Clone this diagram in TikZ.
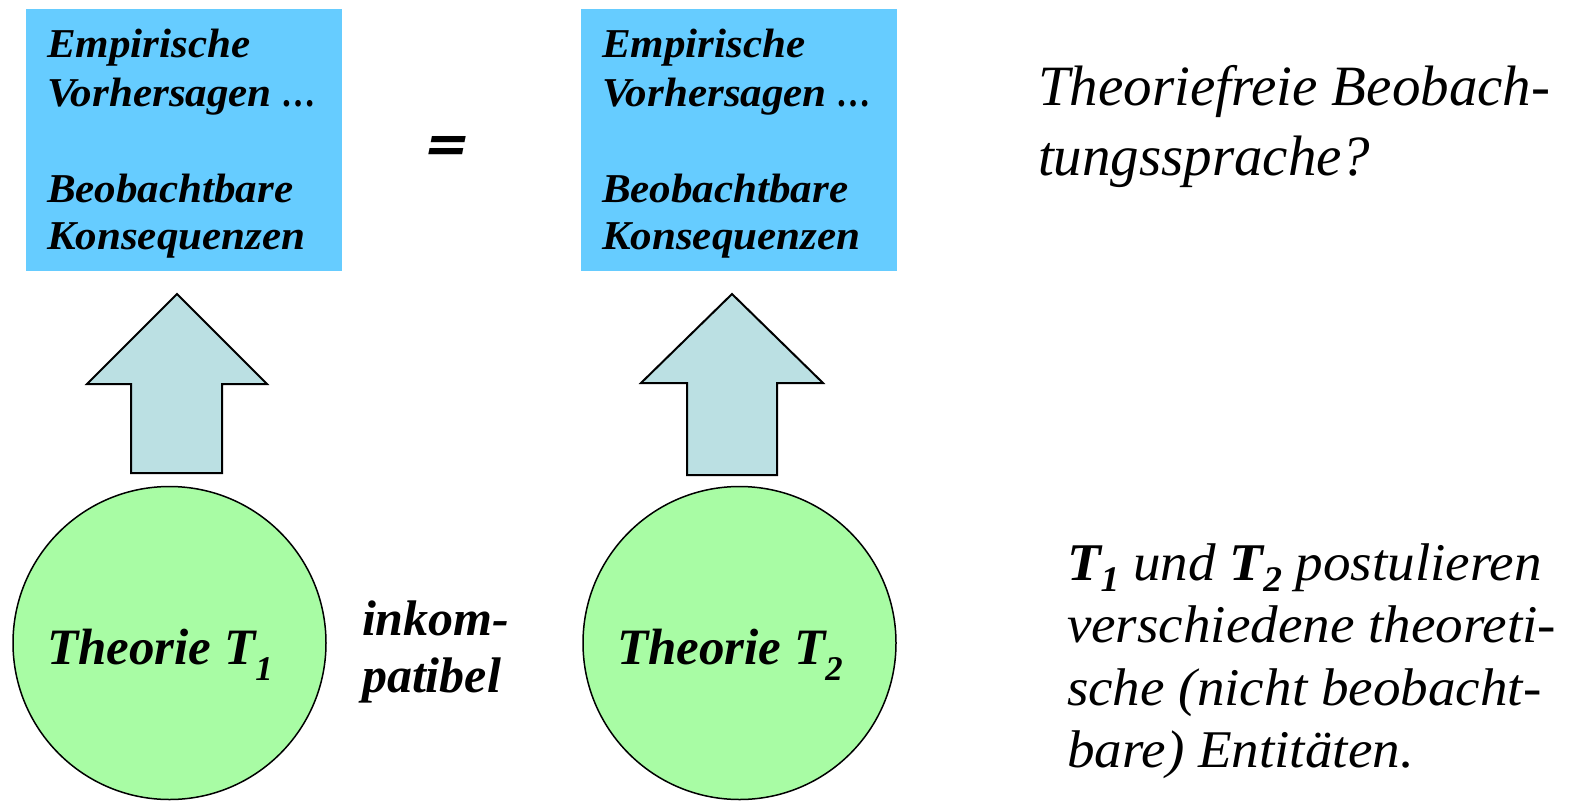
\documentclass[tikz,border=0pt]{standalone}
\usepackage{fontspec}
\usepackage{graphicx}
\setmainfont{Liberation Serif}
\newfontfamily\widefont{Liberation Serif}[FakeStretch=1.05]
\newfontfamily\sidefont{Liberation Serif}[FakeStretch=1.04]
\newfontfamily\eqfont{DejaVu Sans}[FakeSlant=0.2]
\usetikzlibrary{shapes.geometric}
\definecolor{boxblue}{RGB}{102,204,255}
\definecolor{arrowfill}{RGB}{187,224,227}
\definecolor{theorygreen}{RGB}{168,252,164}
\newcommand{\lowidx}[1]{\raisebox{-0.32em}{\scalebox{0.68}{#1}}}
\newcommand{\sideidx}[1]{\raisebox{-0.22em}{\scalebox{0.68}{#1}}}
\newcommand{\tightdots}{\scalebox{0.8}[1]{…}}
\begin{document}
\begin{tikzpicture}[x=1pt,y=-1pt,
  consbox/.style={fill=boxblue,draw=none,minimum width=316pt,minimum height=262pt,inner sep=0pt},
  theory/.style={circle,fill=theorygreen,draw=black,line width=1.5pt,inner sep=0pt,minimum size=313pt},
  blockarrow/.style={fill=arrowfill,draw=black,line width=2pt,line join=miter},
  line/.style={anchor=base west,inner sep=0pt,outer sep=0pt},
  boxtext/.style={line,font=\widefont\bfseries\itshape\fontsize{41}{48}\selectfont},
  bigtext/.style={line,font=\itshape\fontsize{57}{70}\selectfont},
  sidetext/.style={line,text height=0.72em,text depth=0.2em,font=\sidefont\itshape\fontsize{53}{62}\selectfont},
  labeltext/.style={line,font=\bfseries\itshape\fontsize{50}{57}\selectfont},
  thtext/.style={anchor=base,inner sep=0pt,font=\bfseries\itshape\fontsize{51}{59}\selectfont}]
\useasboundingbox (0,0) rectangle (1585,801);

% consequence boxes
\node[consbox] (cons1) at (184,140) {};
\node[consbox] (cons2) at (739,140) {};
\node[boxtext] (c1a) at (47,57)  {Empirische};
\node[boxtext] (c1b) at (47,106) {Vorhersagen \tightdots};
\node[boxtext] (c1c) at (47,202) {Beobachtbare};
\node[boxtext] (c1d) at (47,249) {Konsequenzen};
\node[boxtext] (c2a) at (602,57)  {Empirische};
\node[boxtext] (c2b) at (602,106) {Vorhersagen \tightdots};
\node[boxtext] (c2c) at (602,202) {Beobachtbare};
\node[boxtext] (c2d) at (602,249) {Konsequenzen};
\node[inner sep=0pt,font=\eqfont\bfseries\fontsize{54}{60}\selectfont] (eq) at (444,149) {=};

% block arrows from theories to predictions
\draw[blockarrow] (177,294) -- (267,384) -- (222,384) -- (222,473) -- (131,473) -- (131,384) -- (87,384) -- cycle;
\draw[blockarrow] (732,294) -- (823,383) -- (777,383) -- (777,475) -- (687,475) -- (687,383) -- (641,383) -- cycle;

% theories
\node[theory] (th1) at (169.5,643) {};
\node[theory] (th2) at (739.5,643) {};
\node[thtext] (th1t) at (160,664) {Theorie T\lowidx{1}};
\node[thtext] (th2t) at (730,664) {Theorie T\lowidx{2}};
\node[labeltext] (ink1) at (362,635) {inkom-};
\node[labeltext] (ink2) at (362,692) {patibel};

% side remarks
\node[bigtext] (q1) at (1038,105) {Theoriefreie Beobach-};
\node[bigtext] (q2) at (1038,175) {tungssprache?};
\node[sidetext] (s1) at (1067,580) {\textbf{T\sideidx{1}} und \textbf{T\sideidx{2}} postulieren};
\node[sidetext] (s2) at (1067,642) {verschiedene theoreti-};
\node[sidetext] (s3) at (1067,705) {sche (nicht beobacht-};
\node[sidetext] (s4) at (1067,767) {bare) Entitäten.};
\end{tikzpicture}
\end{document}
